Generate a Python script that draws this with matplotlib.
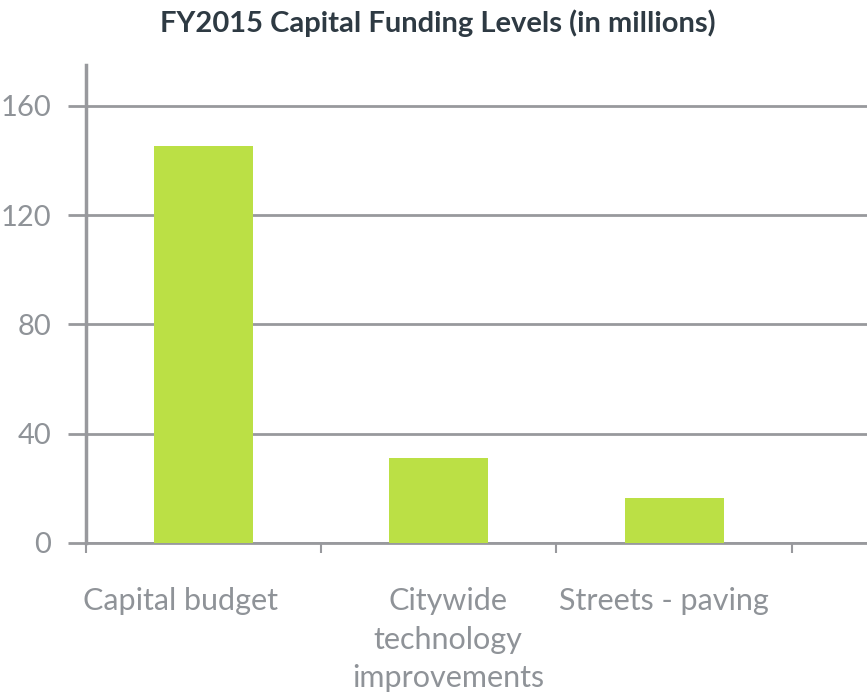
import matplotlib
matplotlib.use("Agg")
import matplotlib.pyplot as plt
from matplotlib.transforms import ScaledTranslation

# 数据
categories = ["Capital budget", "Citywide\ntechnology\nimprovements", "Streets - paving"]
values = [145.4, 31, 16.5]
y_ticks = [0, 40, 80, 120, 160]

bar_color = "#bbe045"
grid_color = "#98999d"
label_color = "#8f9398"
title_color = "#2e3a43"

plt.rcParams["font.family"] = ["Lato", "DejaVu Sans"]

fig = plt.figure(figsize=(8.67, 6.97), dpi=100)
ax = fig.add_axes([0.0992, 0.221, 0.9008, 0.686])

x = list(range(len(categories)))
ax.bar(x, values, width=0.42, color=bar_color, zorder=3)

ax.set_xlim(-0.5, 2.82)
ax.set_ylim(0, 175)

# 軸とグリッド
ax.set_yticks(y_ticks)
ax.yaxis.grid(True, color=grid_color, linewidth=2, zorder=0)
ax.tick_params(axis="y", length=13, width=2, color=grid_color,
               labelsize=21, labelcolor=label_color, pad=12)

ax.set_xticks(x)
ax.set_xticklabels(categories, fontsize=22, color=label_color, linespacing=1.45,
                   va="top", ha="center")
ax.tick_params(axis="x", length=0, pad=32)
ax.set_xticks([-0.5, 0.5, 1.5, 2.5], minor=True)
ax.tick_params(axis="x", which="minor", length=7, width=1.5, color=grid_color)

# ラベルの横ずれ（参考図に合わせる）
label_shift = [-23, 9, -10]
for lab, dx in zip(ax.get_xticklabels(), label_shift):
    lab.set_transform(lab.get_transform() + ScaledTranslation(dx / 100, 0, fig.dpi_scale_trans))

for s in ["top", "right"]:
    ax.spines[s].set_visible(False)
ax.spines["left"].set_color(grid_color)
ax.spines["left"].set_linewidth(2.5)
ax.spines["bottom"].set_color(grid_color)
ax.spines["bottom"].set_linewidth(2)

fig.text(0.505, 0.967, "FY2015 Capital Funding Levels (in millions)",
         ha="center", va="center", fontsize=21, fontweight="bold", color=title_color)

fig.savefig("out.png", dpi=100)
